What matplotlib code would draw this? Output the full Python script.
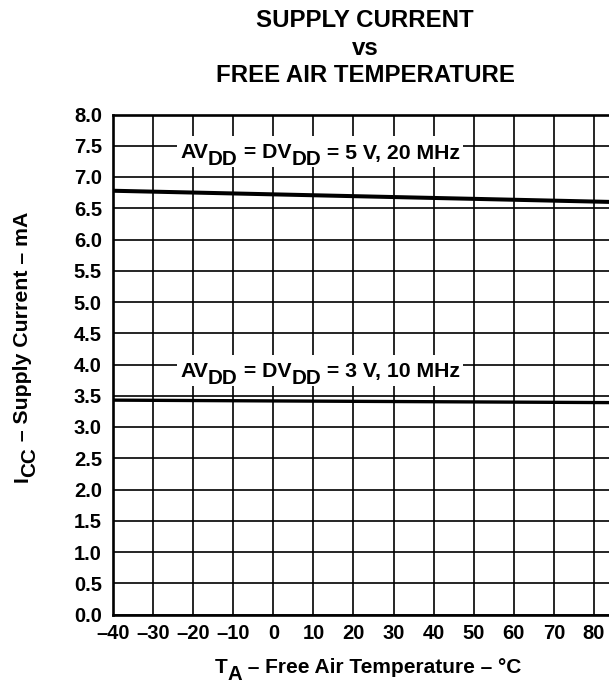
import matplotlib
matplotlib.use('Agg')
import matplotlib.pyplot as plt
from matplotlib.patches import Rectangle

plt.rcParams['font.family'] = ['Liberation Sans', 'DejaVu Sans']
plt.rcParams['font.weight'] = 'bold'

# data
temp = [-40, 85]
icc_5v = [6.78, 6.60]
icc_3v = [3.43, 3.39]

x_ticks = [-40, -30, -20, -10, 0, 10, 20, 30, 40, 50, 60, 70, 80]
y_ticks = [0.0, 0.5, 1.0, 1.5, 2.0, 2.5, 3.0, 3.5, 4.0, 4.5, 5.0, 5.5, 6.0, 6.5, 7.0, 7.5, 8.0]

W, H = 609, 684
fig = plt.figure(figsize=(W / 100, H / 100), dpi=100)
# axes box in pixels: left 113, right 614 (cut by the figure edge), top 114.5, bottom 614.5
ax = fig.add_axes([113 / W, (H - 614.5) / H, 501 / W, 500 / H])

ax.plot(temp, icc_5v, color='black', lw=2.9, solid_capstyle='butt', zorder=3)
ax.plot(temp, icc_3v, color='black', lw=2.4, solid_capstyle='butt', zorder=3)

ax.set_xlim(-40, 85)
ax.set_ylim(0, 8)
ax.set_xticks(x_ticks)
ax.set_yticks(y_ticks)
ax.set_xticklabels([str(t).replace('-', '\u2013') for t in x_ticks])
ax.set_yticklabels(['%.1f' % v for v in y_ticks])
ax.tick_params(length=0, labelsize=14.5)
ax.tick_params(axis='x', pad=7)
ax.tick_params(axis='y', pad=8)
ax.grid(True, color='black', lw=1.2)
for s in ['left', 'bottom', 'top']:
    ax.spines[s].set_linewidth(1.9)
ax.spines['right'].set_visible(False)

renderer = fig.canvas.get_renderer()


def text_width(s, size):
    t = fig.text(0, 0, 'x' + s + 'x', fontsize=size, fontweight='bold')
    t2 = fig.text(0, 0, 'xx', fontsize=size, fontweight='bold')
    w = t.get_window_extent(renderer).width - t2.get_window_extent(renderer).width
    t.remove()
    t2.remove()
    return w


def parts_text(x, y, parts, size, center=True, rotation=0, box=False, sub_scale=0.97):
    # x, y in pixels from the top-left corner, y is the baseline
    sub_size = size * sub_scale
    drop = 6.7
    widths = [text_width(s, sub_size if sub else size) for s, sub in parts]
    total = sum(widths)
    pos = -total / 2 if center else 0
    if box:
        px = size * 100 / 72
        fig.add_artist(Rectangle(((x + pos - 3) / W, 1 - (y + drop + 2) / H),
                                 (total + 6) / W, (0.72 * px + drop + 9) / H,
                                 transform=fig.transFigure, facecolor='white',
                                 edgecolor='none', zorder=1))
    for (s, sub), w in zip(parts, widths):
        dy = drop if sub else 0
        if rotation == 90:
            tx, ty = x + dy, y - pos
        else:
            tx, ty = x + pos, y + dy
        fig.text(tx / W, 1 - ty / H, s, fontsize=sub_size if sub else size,
                 fontweight='bold', ha='left', va='baseline',
                 rotation=rotation, rotation_mode='anchor', zorder=2)
        pos += w


parts_text(320, 158.5, [('AV', False), ('DD', True), (' = DV', False), ('DD', True),
                        (' = 5 V, 20 MHz', False)], 15.3, box=True)
parts_text(320, 377, [('AV', False), ('DD', True), (' = DV', False), ('DD', True),
                      (' = 3 V, 10 MHz', False)], 15.3, box=True)

parts_text(368, 673, [('T', False), ('A', True), (' \u2013 Free Air Temperature \u2013 \u00b0C', False)], 15)
parts_text(28, 347, [('I', False), ('CC', True), (' \u2013 Supply Current \u2013 mA', False)], 15.3,
           rotation=90)

fig.text(365 / W, 1 - 26.7 / H, 'SUPPLY CURRENT', ha='center', va='baseline', fontsize=17.3, fontweight='bold')
fig.text(365 / W, 1 - 55 / H, 'vs', ha='center', va='baseline', fontsize=17.3, fontweight='bold')
fig.text(365 / W, 1 - 81.7 / H, 'FREE AIR TEMPERATURE', ha='center', va='baseline', fontsize=17.3, fontweight='bold')

fig.savefig('out.png', dpi=100)
